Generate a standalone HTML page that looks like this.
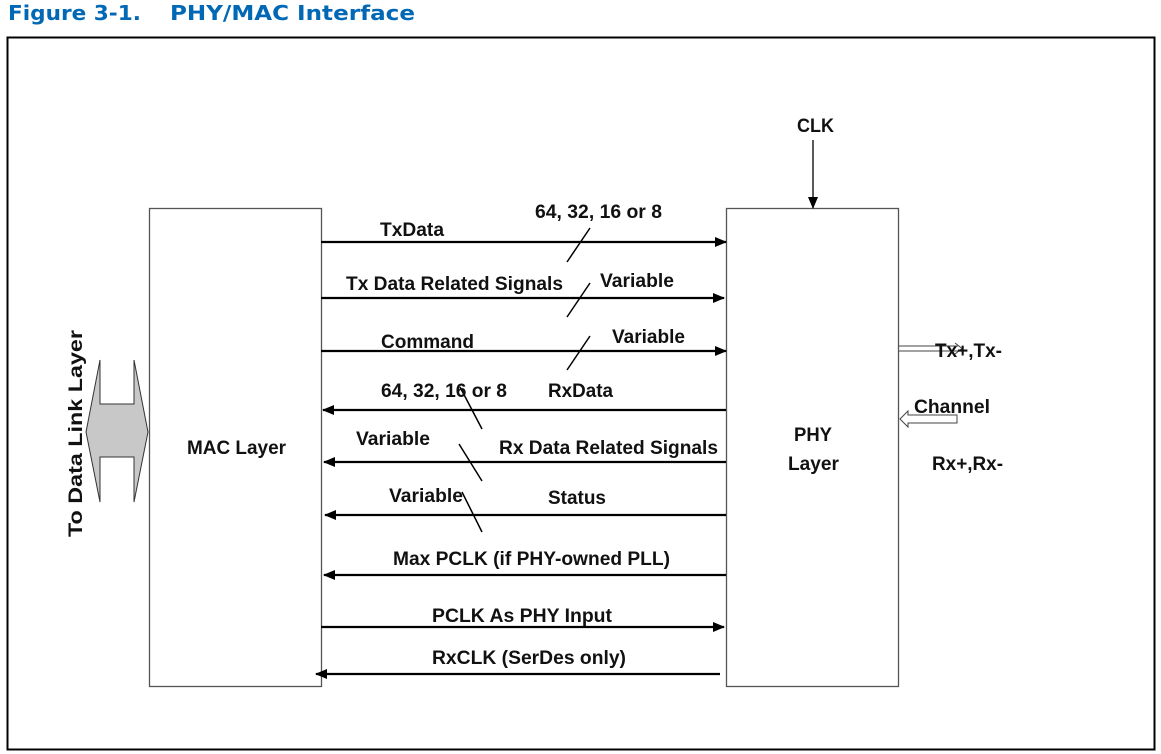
<!DOCTYPE html>
<html><head><meta charset="utf-8"><style>
html,body{margin:0;padding:0;background:#fff;}
svg{display:block;}
text{font-family:"Liberation Sans",Arial,sans-serif;font-size:19px;font-weight:bold;fill:#111;}
</style></head><body>
<svg width="1161" height="754" viewBox="0 0 1161 754">
<defs>
<marker id="ah" markerWidth="12" markerHeight="10" refX="11" refY="5" orient="auto" markerUnits="userSpaceOnUse">
<path d="M0,0 L12,5 L0,10 z" fill="#000"/></marker>
</defs>
<text x="8" y="20" lengthAdjust="spacingAndGlyphs" style="font-family:'DejaVu Sans',Verdana,sans-serif;font-size:20px;fill:#0068b5" textLength="133">Figure 3-1.</text>
<text x="170" y="20" lengthAdjust="spacingAndGlyphs" style="font-family:'DejaVu Sans',Verdana,sans-serif;font-size:20px;fill:#0068b5" textLength="245">PHY/MAC Interface</text>
<rect x="7.5" y="37.5" width="1147" height="712" fill="none" stroke="#000" stroke-width="2"/>
<rect x="149.5" y="208.5" width="172" height="478" fill="none" stroke="#555" stroke-width="1.3"/>
<rect x="726.5" y="208.5" width="172" height="478" fill="none" stroke="#555" stroke-width="1.3"/>
<g stroke="#000" stroke-width="2.2" marker-end="url(#ah)">
<line x1="321" y1="242" x2="726" y2="242"/>
<line x1="321" y1="298" x2="724" y2="298"/>
<line x1="321" y1="351" x2="726" y2="351"/>
<line x1="726" y1="410" x2="323" y2="410"/>
<line x1="726" y1="462" x2="324" y2="462"/>
<line x1="726" y1="515" x2="325" y2="515"/>
<line x1="726" y1="575" x2="324" y2="575"/>
<line x1="321" y1="627" x2="724" y2="627"/>
<line x1="720" y1="674" x2="316" y2="674"/>
</g>
<line x1="813" y1="140" x2="813" y2="208" stroke="#000" stroke-width="1.3" marker-end="url(#ah)"/>
<g stroke="#000" stroke-width="1.5">
<line x1="567" y1="262" x2="590" y2="228"/>
<line x1="567" y1="317" x2="590" y2="283"/>
<line x1="567" y1="370" x2="590" y2="336"/>
<line x1="460" y1="387" x2="482" y2="429"/>
<line x1="459" y1="444" x2="482" y2="481"/>
<line x1="462" y1="492" x2="482" y2="532"/>
</g>
<text x="380" y="236" textLength="64" lengthAdjust="spacingAndGlyphs">TxData</text>
<text x="535" y="218" textLength="127" lengthAdjust="spacingAndGlyphs">64, 32, 16 or 8</text>
<text x="346" y="290" textLength="217" lengthAdjust="spacingAndGlyphs">Tx Data Related Signals</text>
<text x="600" y="287" textLength="74" lengthAdjust="spacingAndGlyphs">Variable</text>
<text x="381" y="348" textLength="93" lengthAdjust="spacingAndGlyphs">Command</text>
<text x="612" y="343" textLength="73" lengthAdjust="spacingAndGlyphs">Variable</text>
<text x="381" y="397" textLength="126" lengthAdjust="spacingAndGlyphs">64, 32, 16 or 8</text>
<text x="548" y="397" textLength="65" lengthAdjust="spacingAndGlyphs">RxData</text>
<text x="356" y="445" textLength="74" lengthAdjust="spacingAndGlyphs">Variable</text>
<text x="499" y="454" textLength="219" lengthAdjust="spacingAndGlyphs">Rx Data Related Signals</text>
<text x="389" y="502" textLength="74" lengthAdjust="spacingAndGlyphs">Variable</text>
<text x="548" y="504" textLength="58" lengthAdjust="spacingAndGlyphs">Status</text>
<text x="393" y="565" textLength="277" lengthAdjust="spacingAndGlyphs">Max PCLK (if PHY-owned PLL)</text>
<text x="432" y="622" textLength="180" lengthAdjust="spacingAndGlyphs">PCLK As PHY Input</text>
<text x="432" y="664" textLength="194" lengthAdjust="spacingAndGlyphs">RxCLK (SerDes only)</text>
<text x="187" y="454" textLength="99" lengthAdjust="spacingAndGlyphs">MAC Layer</text>
<text x="794" y="441" textLength="38" lengthAdjust="spacingAndGlyphs">PHY</text>
<text x="788" y="470" textLength="51" lengthAdjust="spacingAndGlyphs">Layer</text>
<text x="797" y="132" textLength="37" lengthAdjust="spacingAndGlyphs">CLK</text>
<text transform="translate(82,537) rotate(-90)" textLength="207" lengthAdjust="spacingAndGlyphs">To Data Link Layer</text>
<polygon points="100,360 100,404 134,404 134,360 148,432 134,502 134,457 100,457 100,502 86,432" fill="#c8c8c8" stroke="#333" stroke-width="1"/>
<path d="M899,346 L958,346 M899,351 L958,351 M955,343 L962,348.5 L955,354" fill="none" stroke="#444" stroke-width="1"/>
<polygon points="900,419 908,411 908,415 957,415 957,423 908,423 908,427" fill="#fff" stroke="#444" stroke-width="1"/>
<text x="935" y="357" textLength="67" lengthAdjust="spacingAndGlyphs">Tx+,Tx-</text>
<text x="914" y="413" textLength="76" lengthAdjust="spacingAndGlyphs">Channel</text>
<text x="932" y="470" textLength="71" lengthAdjust="spacingAndGlyphs">Rx+,Rx-</text>
</svg>
</body></html>
